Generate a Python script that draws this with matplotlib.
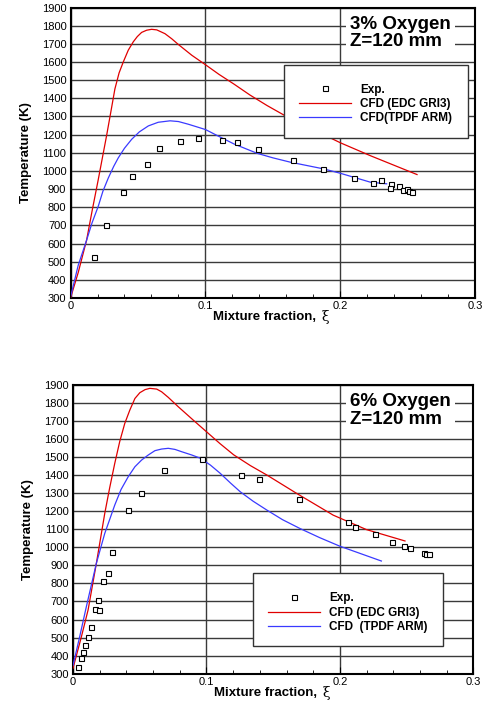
import numpy as np
import matplotlib
matplotlib.use("Agg")
import matplotlib.pyplot as plt
from matplotlib.patches import Rectangle
from matplotlib.ticker import MultipleLocator

plt.rcParams['font.family'] = ['Liberation Sans', 'DejaVu Sans']

# ---- 3% oxygen ----
exp3_x = [0.0173, 0.0266, 0.0386, 0.0457, 0.0566, 0.0658, 0.0812, 0.0946, 0.1119, 0.1237,
          0.1388, 0.1650, 0.1869, 0.2104, 0.2239, 0.2299, 0.2375, 0.2368, 0.2432, 0.2462,
          0.2494, 0.2511, 0.2531]
exp3_t = [528, 704, 886, 972, 1039, 1126, 1166, 1182, 1172, 1160,
          1121, 1061, 1011, 963, 934, 951, 930, 908, 916, 897,
          899, 888, 885]
edc3_x = [0.0, 0.0057, 0.0119, 0.0160, 0.0205, 0.0267, 0.0300, 0.0329, 0.0360, 0.0391,
          0.0428, 0.0465, 0.0495, 0.0527, 0.0564, 0.0601, 0.0639, 0.0700, 0.0750, 0.0800,
          0.0899, 0.1000, 0.1100, 0.1210, 0.1330, 0.1457, 0.1600, 0.1750, 0.2000, 0.2222,
          0.2568]
edc3_t = [300, 440, 618, 780, 950, 1193, 1330, 1452, 1540, 1600,
          1665, 1711, 1740, 1763, 1775, 1780, 1777, 1756, 1728, 1696,
          1637, 1585, 1532, 1479, 1418, 1360, 1300, 1245, 1155, 1084,
          980]
tpdf3_x = [0.0, 0.0057, 0.0119, 0.0160, 0.0205, 0.0240, 0.0280, 0.0320, 0.0354, 0.0400,
           0.0453, 0.0510, 0.0577, 0.0650, 0.0738, 0.0800, 0.0874, 0.1000, 0.1100, 0.1210,
           0.1383, 0.1500, 0.1630, 0.1877, 0.2000, 0.2222, 0.2343]
tpdf3_t = [305, 480, 618, 715, 804, 888, 961, 1025, 1072, 1125,
           1174, 1215, 1248, 1268, 1276, 1272, 1257, 1228, 1190, 1149,
           1097, 1072, 1048, 1011, 987, 938, 929]

# ---- 6% oxygen ----
exp6_x = [0.0035, 0.0060, 0.0075, 0.0092, 0.0109, 0.0132, 0.0167, 0.0187, 0.0192, 0.0224,
          0.0259, 0.0294, 0.0413, 0.0512, 0.0682, 0.0968, 0.1256, 0.1395, 0.1693, 0.2058,
          0.2116, 0.2266, 0.2391, 0.2479, 0.2526, 0.2629, 0.2649, 0.2666]
exp6_t = [339, 385, 420, 459, 505, 560, 660, 710, 653, 811,
          856, 975, 1206, 1302, 1426, 1488, 1402, 1376, 1269, 1138,
          1112, 1075, 1029, 1007, 996, 966, 964, 963]
edc6_x = [0.0, 0.0063, 0.0113, 0.0175, 0.0238, 0.0275, 0.0313, 0.0350, 0.0388, 0.0426,
          0.0464, 0.0501, 0.0540, 0.0576, 0.0627, 0.0664, 0.0714, 0.0789, 0.0915, 0.1000,
          0.1100, 0.1204, 0.1330, 0.1453, 0.1677, 0.1950, 0.2199, 0.2488]
edc6_t = [330, 505, 653, 911, 1188, 1330, 1465, 1585, 1686, 1760,
          1824, 1856, 1873, 1880, 1876, 1861, 1830, 1778, 1695, 1640,
          1575, 1512, 1452, 1400, 1298, 1178, 1098, 1035]
tpdf6_x = [0.0, 0.0050, 0.0100, 0.0175, 0.0238, 0.0313, 0.0360, 0.0414, 0.0464, 0.0514,
           0.0564, 0.0614, 0.0664, 0.0714, 0.0764, 0.0815, 0.0890, 0.0955, 0.1030, 0.1104,
           0.1180, 0.1254, 0.1350, 0.1453, 0.1570, 0.1701, 0.1850, 0.2000, 0.2311]
tpdf6_t = [346, 505, 671, 911, 1077, 1234, 1320, 1391, 1446, 1483,
           1511, 1535, 1544, 1548, 1542, 1529, 1511, 1493, 1455, 1409,
           1356, 1307, 1255, 1206, 1153, 1104, 1053, 1006, 924]

x_ticks = [0, 0.1, 0.2, 0.3]
x_tick_labels = ['0', '0.1', '0.2', '0.3']
y_ticks = list(range(300, 2000, 100))


def draw_panel(ax, exp_x, exp_t, edc_x, edc_t, tpdf_x, tpdf_t, title, tpdf_label,
               title_pos, leg_rect, leg_anchor):
    ax.set_xlim(0, 0.3)
    ax.set_ylim(300, 1900)
    ax.set_xticks(x_ticks)
    ax.set_xticklabels(x_tick_labels)
    ax.xaxis.set_minor_locator(MultipleLocator(0.02))
    ax.set_yticks(y_ticks)
    ax.grid(True, axis='both', which='major', color='#3a3a3a', lw=1.0, zorder=0)
    ax.set_axisbelow(True)
    ax.tick_params(axis='y', length=0, pad=3, labelsize=8)
    ax.tick_params(axis='x', which='major', direction='in', length=5, pad=2.5, labelsize=8)
    ax.tick_params(axis='x', which='minor', direction='in', length=3)
    for s in ax.spines.values():
        s.set_linewidth(1.5)

    h_exp, = ax.plot(exp_x, exp_t, ls='none', marker='s', ms=3.6, mfc='white',
                     mec='black', mew=0.8, zorder=4)
    h_edc, = ax.plot(edc_x, edc_t, color='#e00000', lw=0.9, zorder=3)
    h_tpdf, = ax.plot(tpdf_x, tpdf_t, color='#3a3aff', lw=0.9, zorder=3)

    ax.set_xlabel('Mixture fraction,', fontsize=9.5, fontweight='bold', labelpad=0)
    # the xi is set in a plain serif face, as in the reference
    lbl = ax.xaxis.label
    lbl.set_position((0.48, 0))
    ax.annotate('ξ', xy=(1, 0.5), xycoords=lbl, xytext=(4, 0), textcoords='offset points',
                ha='left', va='center', fontsize=10, family='DejaVu Serif')
    ax.set_ylabel('Temperature (K)', fontsize=9.5, fontweight='bold', labelpad=7)

    ax.text(title_pos[0], title_pos[1], title, transform=ax.transAxes, fontsize=13.5,
            fontweight='bold', ha='left', va='center', linespacing=1.05, zorder=6,
            bbox=dict(fc='white', ec='none', pad=3))

    ax.add_patch(Rectangle((leg_rect[0], leg_rect[1]), leg_rect[2], leg_rect[3],
                           transform=ax.transAxes, fc='white', ec='#333333', lw=1.0, zorder=5))
    leg = ax.legend([h_exp, h_edc, h_tpdf], ['Exp.', 'CFD (EDC GRI3)', tpdf_label],
                    loc='center left', bbox_to_anchor=leg_anchor, frameon=False,
                    prop={'size': 8.5, 'weight': 'bold'}, handlelength=4.4,
                    handletextpad=0.75, labelspacing=0.2, borderpad=0, borderaxespad=0,
                    numpoints=1)
    leg.set_zorder(6)


fig = plt.figure(figsize=(4.88, 7.04), dpi=100)
ax1 = fig.add_axes([0.1445, 0.5767, 0.8295, 0.4126])
ax2 = fig.add_axes([0.1496, 0.0430, 0.8203, 0.4105])

draw_panel(ax1, exp3_x, exp3_t, edc3_x, edc3_t, tpdf3_x, tpdf3_t,
           '3% Oxygen\nZ=120 mm', 'CFD(TPDF ARM)',
           (0.690, 0.912), (0.528, 0.552, 0.455, 0.250), (0.5645, 0.668))
draw_panel(ax2, exp6_x, exp6_t, edc6_x, edc6_t, tpdf6_x, tpdf6_t,
           '6% Oxygen\nZ=120 mm', 'CFD  (TPDF ARM)',
           (0.692, 0.910), (0.450, 0.096, 0.474, 0.251), (0.488, 0.211))

fig.savefig('out.png', dpi=100)
